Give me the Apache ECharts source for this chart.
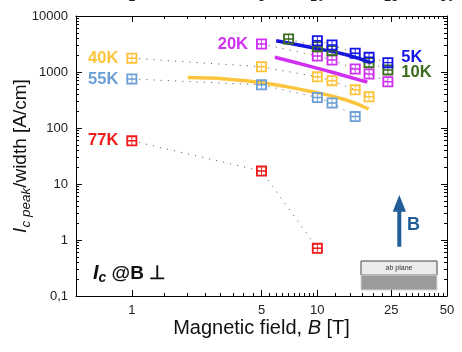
<!DOCTYPE html>
<html>
<head>
<meta charset="utf-8">
<script src="https://cdn.jsdelivr.net/npm/echarts@6/dist/echarts.min.js"></script>
<style>
  html, body { margin: 0; padding: 0; background: #fff; }
  #chart { width: 462px; height: 352px; }
</style>
</head>
<body>
<div id="chart"></div>
<script>
// axis ticks
const fieldMajor = [1, 5, 10, 25, 50]
const fieldMinor = [1.5, 2, 2.5, 3, 3.5, 4, 4.5, 5.5, 6, 6.5, 7, 7.5, 8, 8.5, 9, 9.5,
  12.5, 15, 17.5, 20, 22.5, 27.5, 30, 32.5, 35, 37.5, 40, 42.5, 45, 47.5]
const icMajor = [0.1, 1, 10, 100, 1000, 10000]
const icLabels = ['0,1', '1', '10', '100', '1000', '10000']
const icMinor = []
for (let d = 0.1; d < 5000; d *= 10) {
  for (let k = 2; k <= 9; k++) icMinor.push(+(d * k).toPrecision(3))
}

// measured points [B (T), Ic/width (A/cm)]
const t5K = [[10, 3620], [12, 3040], [16, 2160], [19, 1830], [24, 1470]]
const t10K = [[7, 3880], [10, 2830], [12, 2400], [19, 1470], [24, 1090]]
const t20K = [[5, 3160], [10, 1930], [12, 1640], [16, 1130], [19, 920], [24, 670]]
const t40K = [[1, 1760], [5, 1240], [10, 820], [12, 700], [16, 480], [19, 360]]
const t55K = [[1, 750], [5, 590], [10, 350], [12, 280], [16, 160]]
const t77K = [[1, 59], [5, 17], [10, 0.71]]

// fit curves
const fit5K = [[6.0, 3620], [9.6, 2680], [14.5, 2010], [19.5, 1450]]
const fit20K = [[5.9, 1830], [9.6, 1210], [13.4, 895], [18.6, 660]]
const fit40K = [[2.0, 800], [4.1, 700], [9.4, 445], [14.3, 316], [18.9, 218]]

const FONT = '"Liberation Sans", Arial, sans-serif'
const MARK = 'path://M0 0H12V12H0Z M2 2V5.2H5.5V2Z M6.5 2V5.2H10V2Z M2 6.8V10H5.5V6.8Z M6.5 6.8V10H10V6.8Z'

function measured(name, color, data, lbl) {
  const at = lbl.last ? data.length - 1 : 0
  return {
    name,
    type: 'line',
    z: 3,
    symbol: MARK,
    symbolSize: 11,
    itemStyle: { color },
    lineStyle: { color: '#666', width: 1, type: [1.2, 6] },
    emphasis: { disabled: true },
    data: data.map((p, i) => i !== at ? p : {
      value: p,
      label: {
        show: true,
        formatter: name,
        position: lbl.last ? 'right' : 'left',
        distance: lbl.distance || 8,
        offset: lbl.offset || [0, 0],
        color,
        fontFamily: FONT,
        fontWeight: 'bold',
        fontSize: 16.5
      }
    })
  }
}

function fit(color, data) {
  return {
    type: 'line',
    z: 1,
    smooth: true,
    showSymbol: false,
    lineStyle: { color, width: 3.5 },
    emphasis: { disabled: true },
    data
  }
}

const tickLabel = { fontFamily: FONT, fontSize: 13, color: '#222' }

function xAxisOf(pos, major) {
  return {
    type: 'log', min: 0.5, max: 50, position: pos,
    axisLine: { show: true, lineStyle: { color: '#000', width: 1, opacity: major ? 1 : 0 } },
    axisTick: {
      show: true, inside: true, length: major ? 6 : 3,
      lineStyle: { color: '#000' }, customValues: major ? fieldMajor : fieldMinor
    },
    axisLabel: major
      ? { ...tickLabel, customValues: fieldMajor, margin: pos === 'top' ? 12 : 8 }
      : { show: true, customValues: fieldMinor, formatter: () => '' },
    splitLine: { show: false }
  }
}

function yAxisOf(pos, major) {
  const labelled = major && pos === 'left'
  return {
    type: 'log', min: 0.1, max: 10000, position: pos,
    axisLine: { show: true, lineStyle: { color: '#000', width: 1, opacity: major ? 1 : 0 } },
    axisTick: {
      show: true, inside: true, length: major ? 6 : 3,
      lineStyle: { color: '#000' }, customValues: major ? icMajor : icMinor
    },
    axisLabel: {
      ...tickLabel, show: true, customValues: major ? icMajor : icMinor, margin: 8,
      formatter: v => labelled ? icLabels[Math.round(Math.log10(v)) + 1] : ''
    },
    splitLine: { show: false }
  }
}

const chart = echarts.init(document.getElementById('chart'))

const xMain = xAxisOf('bottom', true)
xMain.name = 'Magnetic field, {i|B} [T]'
xMain.nameLocation = 'middle'
xMain.nameGap = 22
xMain.nameMoveOverlap = false
xMain.nameTextStyle = {
  fontFamily: FONT, fontSize: 20, color: '#111',
  rich: { i: { fontFamily: FONT, fontSize: 20, fontStyle: 'italic', color: '#111' } }
}

const yMain = yAxisOf('left', true)
yMain.name = '{i|I}{s|c peak}{n|/width [A/cm]}'
yMain.nameLocation = 'middle'
yMain.nameGap = 43
yMain.nameRotate = 90
yMain.nameMoveOverlap = false
yMain.nameTextStyle = {
  fontFamily: FONT, fontSize: 19, color: '#111',
  rich: {
    i: { fontFamily: FONT, fontSize: 19, fontStyle: 'italic', color: '#111', verticalAlign: 'top' },
    s: { fontFamily: FONT, fontSize: 13.5, fontStyle: 'italic', color: '#111', verticalAlign: 'top', padding: [8, 0, 0, 0] },
    n: { fontFamily: FONT, fontSize: 19, color: '#111', verticalAlign: 'top' }
  }
}

const option = {
  animation: false,
  grid: { left: 76, right: 15, top: 16, bottom: 56, containLabel: false, outerBoundsMode: 'none' },
  xAxis: [xMain, xAxisOf('bottom', false), xAxisOf('top', true), xAxisOf('top', false)],
  yAxis: [yMain, yAxisOf('left', false), yAxisOf('right', true), yAxisOf('right', false)],
  series: [
    fit('#1414e0', fit5K),
    fit('#d030f0', fit20K),
    fit('#fcc43c', fit40K),
    measured('77K', '#ee1c1c', t77K, {}),
    measured('55K', '#6c9fd5', t55K, {}),
    measured('40K', '#fcc43c', t40K, {}),
    measured('20K', '#d030f0', t20K, {}),
    measured('10K', '#3b6b1f', t10K, { last: true, offset: [0, 3] }),
    measured('5K', '#1414e6', t5K, { last: true, offset: [0, -5] })
  ],
  graphic: [
    {
      type: 'text', x: 93, y: 274,
      style: {
        text: '{i|I}{c|c} @B ⊥',
        fontFamily: FONT, fontSize: 19, fontWeight: 'bold', fill: '#111', verticalAlign: 'middle',
        rich: {
          i: { fontFamily: FONT, fontSize: 20, fontWeight: 'bold', fontStyle: 'italic', verticalAlign: 'top' },
          c: { fontFamily: FONT, fontSize: 14, fontWeight: 'bold', fontStyle: 'italic', verticalAlign: 'top', padding: [8, 0, 0, 0] }
        }
      }
    },
    {
      type: 'polygon',
      shape: { points: [[399.3, 195], [406, 211.7], [401.3, 211.7], [401.3, 246.7], [397.3, 246.7], [397.3, 211.7], [392.7, 211.7]] },
      style: { fill: '#215d96' }
    },
    {
      type: 'text', x: 407, y: 225,
      style: { text: 'B', fontFamily: FONT, fontSize: 18, fontWeight: 'bold', fill: '#215d96', verticalAlign: 'middle' }
    },
    {
      type: 'rect', shape: { x: 361, y: 261, width: 76, height: 14 },
      style: { fill: '#ebebeb', stroke: '#444', lineWidth: 1 }
    },
    {
      type: 'rect', shape: { x: 361, y: 275, width: 76, height: 15 },
      style: { fill: '#9b9b9b', stroke: '#d6d6d6', lineWidth: 1 }
    },
    {
      type: 'text', x: 399, y: 268,
      style: { text: 'ab plane', fontFamily: FONT, fontSize: 7, fill: '#333', align: 'center', verticalAlign: 'middle' }
    }
  ]
}

chart.setOption(option)
</script>
</body>
</html>
